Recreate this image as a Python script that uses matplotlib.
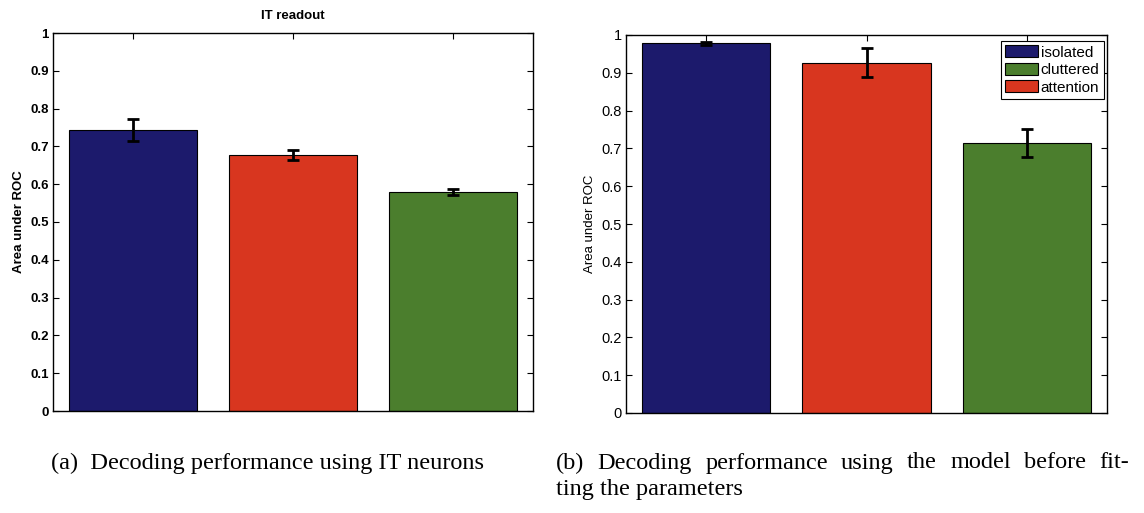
import matplotlib
matplotlib.use("Agg")
import matplotlib.pyplot as plt
from matplotlib.patches import Patch

# ---- data ----
left_labels = ["isolated", "attention", "cluttered"]
left_values = [0.743, 0.677, 0.580]
left_errors = [0.029, 0.013, 0.008]

right_labels = ["isolated", "attention", "cluttered"]
right_values = [0.978, 0.927, 0.714]
right_errors = [0.004, 0.039, 0.037]

legend_labels = ["isolated", "cluttered", "attention"]
yticks = [0, 0.1, 0.2, 0.3, 0.4, 0.5, 0.6, 0.7, 0.8, 0.9, 1]
ytick_labels = ["0", "0.1", "0.2", "0.3", "0.4", "0.5", "0.6", "0.7", "0.8", "0.9", "1"]

caption_a = "(a)  Decoding performance using IT neurons"
caption_b1 = "(b)  Decoding performance using the model before fit-"
caption_b2 = "ting the parameters"

colors = {"isolated": "#1c1a6c", "attention": "#d8361f", "cluttered": "#4b7e2d"}

W, H = 1144, 513
fig = plt.figure(figsize=(W / 100, H / 100), dpi=100)
sans = "Liberation Sans"
serif = "Liberation Serif"


def draw(ax, labels, values, errors, bold):
    xs = list(range(1, len(values) + 1))
    ax.bar(xs, values, width=0.8, color=[colors[l] for l in labels],
           edgecolor="black", linewidth=0.8, zorder=2)
    ax.errorbar(xs, values, yerr=errors, fmt="none", ecolor="black",
                elinewidth=2, capsize=4, capthick=2, zorder=3)
    ax.set_xlim(0.5, 3.5)
    ax.set_ylim(0, 1)
    ax.set_yticks(yticks)
    ax.set_yticklabels(ytick_labels, fontfamily=sans,
                       fontweight="bold" if bold else "normal",
                       fontsize=9.5 if bold else 10.5)
    ax.set_xticks(xs)
    ax.set_xticklabels([])
    ax.tick_params(direction="in", length=4, width=0.8, top=True, right=True,
                   pad=3)
    ax.set_ylabel("Area under ROC", fontfamily=sans,
                  fontweight="bold" if bold else "normal",
                  fontsize=9.5, labelpad=4)
    for s in ax.spines.values():
        s.set_linewidth(1.0)


ax1 = fig.add_axes([53 / W, 1 - 411 / H, 480 / W, 378 / H])
draw(ax1, left_labels, left_values, left_errors, True)
ax1.set_title("IT readout", fontfamily=sans, fontweight="bold", fontsize=9.5,
              pad=10)

ax2 = fig.add_axes([626 / W, 1 - 413 / H, 481 / W, 378 / H])
draw(ax2, right_labels, right_values, right_errors, False)
handles = [Patch(facecolor=colors[l], edgecolor="black", linewidth=0.8)
           for l in legend_labels]
leg = ax2.legend(handles, legend_labels, loc="upper right",
                 bbox_to_anchor=(1.0, 0.993), fancybox=False,
                 edgecolor="black", framealpha=1,
                 prop={"family": sans, "size": 11},
                 handlelength=2.1, handleheight=0.85, handletextpad=0.2,
                 labelspacing=0.2, borderpad=0.3, borderaxespad=0.2)
leg.get_frame().set_linewidth(0.8)

CAP = 17.5
fig.text(51 / W, 1 - 463 / H, caption_a, fontfamily=serif, fontsize=CAP,
         va="center", ha="left")

# justified first line of caption (b)
x_start, x_end = 556, 1129
fig.canvas.draw()
renderer = fig.canvas.get_renderer()
words = caption_b1.split()
texts = [fig.text(0, 1 - 463 / H, w, fontfamily=serif, fontsize=CAP,
                  va="center", ha="left") for w in words]
widths = [t.get_window_extent(renderer).width for t in texts]
gap = (x_end - x_start - sum(widths)) / (len(words) - 1)
x = x_start
for t, w in zip(texts, widths):
    t.set_x(x / W)
    x += w + gap
fig.text(x_start / W, 1 - 490 / H, caption_b2, fontfamily=serif, fontsize=CAP,
         va="center", ha="left")

fig.savefig("out.png", dpi=100)
